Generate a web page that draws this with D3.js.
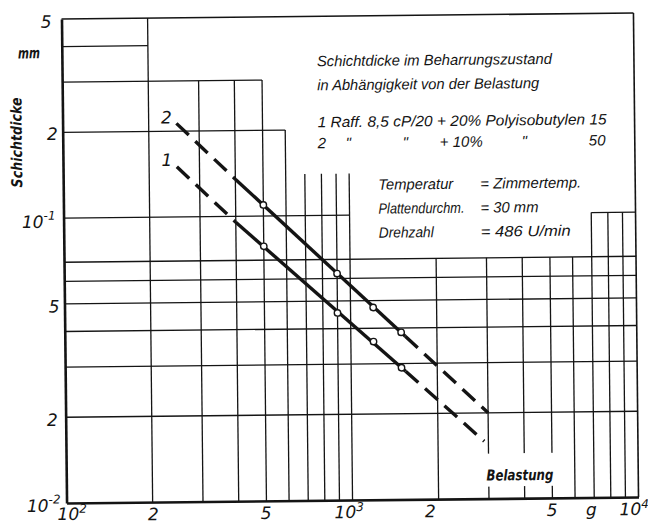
<!DOCTYPE html>
<html><head><meta charset="utf-8">
<script src="https://cdn.jsdelivr.net/npm/d3@7"></script>
<style>html,body{margin:0;padding:0;background:#fff;} svg{display:block;}</style>
</head><body>
<svg id="c" width="648" height="524"></svg>
<script>
// ---------------- data ----------------
const markerLoads = [500, 900, 1200, 1500];           // Belastung in g
const thickness1 = [0.0783, 0.0454, 0.0359, 0.0290];   // curve 1, mm
const thickness2 = [0.1094, 0.0624, 0.0473, 0.0386];   // curve 2, mm
// straight fit lines: [dash start, solid start, solid end, dash end]
const fitLoads1 = [250, 400, 1550, 2900];
const fitThick1 = [0.150, 0.0953, 0.0282, 0.0159];
const fitLoads2 = [250, 400, 1550, 3000];
const fitThick2 = [0.213, 0.135, 0.0374, 0.0200];
const curveNames = ["1", "2"];

const xTickValues = [100, 200, 500, 1000, 2000, 5000, 10000];
const xTickBase   = ["10", "2", "5", "10", "2", "5", "10"];
const xTickSup    = ["2", "", "", "3", "", "", "4"];
const yTickValues = [0.5, 0.2, 0.1, 0.05, 0.02, 0.01];
const yTickBase   = ["5", "2", "10", "5", "2", "10"];
const yTickSup    = ["", "", "-1", "", "", "-2"];

// irregular grid of the original drawing paper
const hGridValues = [0.4, 0.3, 0.2, 0.1, 0.1, 0.07, 0.06, 0.05, 0.04, 0.03, 0.02];
const hGridFrom   = [100, 100, 100, 100, 7000, 100, 100, 100, 100, 100, 100];
const hGridTo     = [200, 500, 600, 1000, 10000, 10000, 10000, 10000, 10000, 10000, 10000];
const vGridValues = [200, 300, 400, 500, 600, 700, 800, 900, 1000, 2000, 3000, 4000, 5000, 6000, 7000, 8000, 9000];
const vGridTop    = [0.5, 0.3, 0.3, 0.3, 0.2, 0.14, 0.14, 0.14, 0.14, 0.07, 0.07, 0.07, 0.07, 0.07, 0.1, 0.1, 0.1];

const yTitle = "Schichtdicke", yUnit = "mm", xTitle = "Belastung", xUnit = "g";
const noteTitle = ["Schichtdicke im Beharrungszustand", "in Abhängigkeit von der Belastung"];
const noteRow1 = "1  Raff. 8,5 cP/20 + 20% Polyisobutylen 15";
const noteRow2 = ["2", "\"", "\"", "+ 10%", "\"", "50"];
const noteCondLabels = ["Temperatur", "Plattendurchm.", "Drehzahl"];
const noteCondValues = ["= Zimmertemp.", "= 30 mm", "= 486 U/min"];

// ---------------- drawing ----------------
const FONT = "'DejaVu Sans',sans-serif";
const NOTEFONT = "'Liberation Sans',Arial,sans-serif";
const svg = d3.select("#c");
svg.append("rect").attr("width", 648).attr("height", 524).attr("fill", "#fff");
const g = svg.append("g").attr("transform", "rotate(-0.6,350,258)");

const x = d3.scaleLog().domain([100, 10000]).range([64, 636]);
const y = d3.scaleLog().domain([0.01, 0.5]).range([500, 16]);
const ink = "#141414";

// grid
const grid = g.append("g").attr("stroke", ink).attr("stroke-width", 1.3).attr("fill", "none");
hGridValues.forEach((v, i) => {
  grid.append("line").attr("x1", x(hGridFrom[i])).attr("x2", x(hGridTo[i]))
    .attr("y1", y(v)).attr("y2", y(v));
});
vGridValues.forEach((v, i) => {
  grid.append("line").attr("x1", x(v)).attr("x2", x(v))
    .attr("y1", y(0.01)).attr("y2", y(vGridTop[i]));
});

// white patch behind the x title (breaks the grid)
g.append("rect").attr("x", x(2850)).attr("y", 455).attr("width", 76).attr("height", 33).attr("fill", "#fff");

// frame
g.append("line").attr("x1", x(100)).attr("x2", x(10000)).attr("y1", y(0.5)).attr("y2", y(0.5)).attr("stroke", ink).attr("stroke-width", 1.6);
g.append("line").attr("x1", x(10000)).attr("x2", x(10000)).attr("y1", y(0.5)).attr("y2", y(0.01)).attr("stroke", ink).attr("stroke-width", 1.6);

// axes (library axes, custom styling)
const xAxis = g.append("g").attr("transform", `translate(0,${y(0.01)})`)
  .call(d3.axisBottom(x).tickValues(xTickValues).tickSize(0).tickPadding(0).tickFormat(() => ""));
xAxis.select(".domain").attr("stroke", ink).attr("stroke-width", 2.6);
const xNudge = [5, 0, -1, -4, -9, -1, -5];
xAxis.selectAll(".tick text").each(function (d, i) {
  const t = d3.select(this).attr("y", i === 0 ? 17 : 18).attr("dy", null)
    .attr("x", xNudge[i]).attr("fill", ink)
    .attr("font-family", FONT).attr("font-style", "italic").attr("font-size", 17);
  t.append("tspan").text(xTickBase[i]);
  if (xTickSup[i]) t.append("tspan").attr("dy", -7).attr("font-size", 12).text(xTickSup[i]);
});

const yAxis = g.append("g").attr("transform", `translate(${x(100)},0)`)
  .call(d3.axisLeft(y).tickValues(yTickValues).tickSize(0).tickPadding(0).tickFormat(() => ""));
yAxis.select(".domain").attr("stroke", ink).attr("stroke-width", 2.6);
const yRight = [-10, -5, -8, -5, -8, -6];
const yDown = [8, 7, 9, 8, 8, 8];
yAxis.selectAll(".tick text").each(function (d, i) {
  const t = d3.select(this).attr("x", yRight[i]).attr("dy", null).attr("y", yDown[i])
    .attr("text-anchor", "end").attr("fill", ink)
    .attr("font-family", FONT).attr("font-style", "italic").attr("font-size", 17);
  t.append("tspan").text(yTickBase[i]);
  if (yTickSup[i]) t.append("tspan").attr("dy", -8).attr("font-size", 12).text(yTickSup[i]);
});

// axis titles / units
g.append("text").attr("transform", "translate(23,139) rotate(-90)").attr("text-anchor", "middle")
  .attr("font-family", FONT).attr("font-style", "italic").attr("font-weight", "bold")
  .attr("font-size", 15).attr("fill", ink).attr("textLength", 90).attr("lengthAdjust", "spacingAndGlyphs").text(yTitle);
g.append("text").attr("x", 20).attr("y", 55).attr("font-family", FONT).attr("font-style", "italic")
  .attr("font-weight", "bold").attr("font-size", 15).attr("fill", ink)
  .attr("textLength", 22).attr("lengthAdjust", "spacingAndGlyphs").text(yUnit);
g.append("text").attr("x", x(2850) + 4).attr("y", 482).attr("font-family", FONT).attr("font-style", "italic")
  .attr("font-weight", "bold").attr("font-size", 15).attr("fill", ink)
  .attr("textLength", 67).attr("lengthAdjust", "spacingAndGlyphs").text(xTitle);
g.append("text").attr("x", x(7000) - 3).attr("y", y(0.01) + 18).attr("text-anchor", "middle")
  .attr("font-family", FONT).attr("font-style", "italic").attr("font-size", 17).attr("fill", ink).text(xUnit);

// data lines
const line = d3.line().x(d => x(d[0])).y(d => y(d[1]));
const fits = [d3.zip(fitLoads1, fitThick1), d3.zip(fitLoads2, fitThick2)];
const marks = [d3.zip(markerLoads, thickness1), d3.zip(markerLoads, thickness2)];
const dl = g.append("g").attr("fill", "none").attr("stroke", ink).attr("stroke-width", 3.4);
fits.forEach(f => {
  dl.append("path").attr("d", line([f[0], f[1]])).attr("stroke-dasharray", "17,9");
  dl.append("path").attr("d", line([f[1], f[2]]));
  dl.append("path").attr("d", line([f[2], f[3]])).attr("stroke-dasharray", "17,9");
});
marks.forEach(m => {
  g.append("g").selectAll("circle").data(m).join("circle")
    .attr("cx", d => x(d[0])).attr("cy", d => y(d[1])).attr("r", 3.2)
    .attr("fill", "#fff").attr("stroke", ink).attr("stroke-width", 1.4);
});
// curve numbers near the dashed starts
fits.forEach((f, i) => {
  g.append("text").attr("x", x(f[0][0]) - 10).attr("y", y(f[0][1]) + (i === 0 ? -1 : 0))
    .attr("text-anchor", "middle").attr("font-family", FONT).attr("font-style", "italic")
    .attr("font-size", 17).attr("fill", ink).text(curveNames[i]);
});

// annotation block
const ann = g.append("g").attr("font-family", NOTEFONT).attr("font-style", "italic").attr("font-size", 15).attr("fill", ink);
function txt(s, xx, yy, len) {
  const t = ann.append("text").attr("x", xx).attr("y", yy).text(s);
  if (len) t.attr("textLength", len).attr("lengthAdjust", "spacingAndGlyphs");
  return t;
}
txt(noteTitle[0], 319, 66, 235);
txt(noteTitle[1], 319, 90, 222);
txt(noteRow1, 319, 127, 289);
const r2x = [319, 347, 404, 441, 523, 590];
noteRow2.forEach((s, i) => txt(s, r2x[i], 148, null));
const cy0 = [190, 214, 238];
const cl = [75, 86, 55], cv = [101, 58, 90];
noteCondLabels.forEach((s, i) => txt(s, 379, cy0[i], cl[i]));
noteCondValues.forEach((s, i) => txt(s, 481, cy0[i], cv[i]));
</script>
</body></html>
